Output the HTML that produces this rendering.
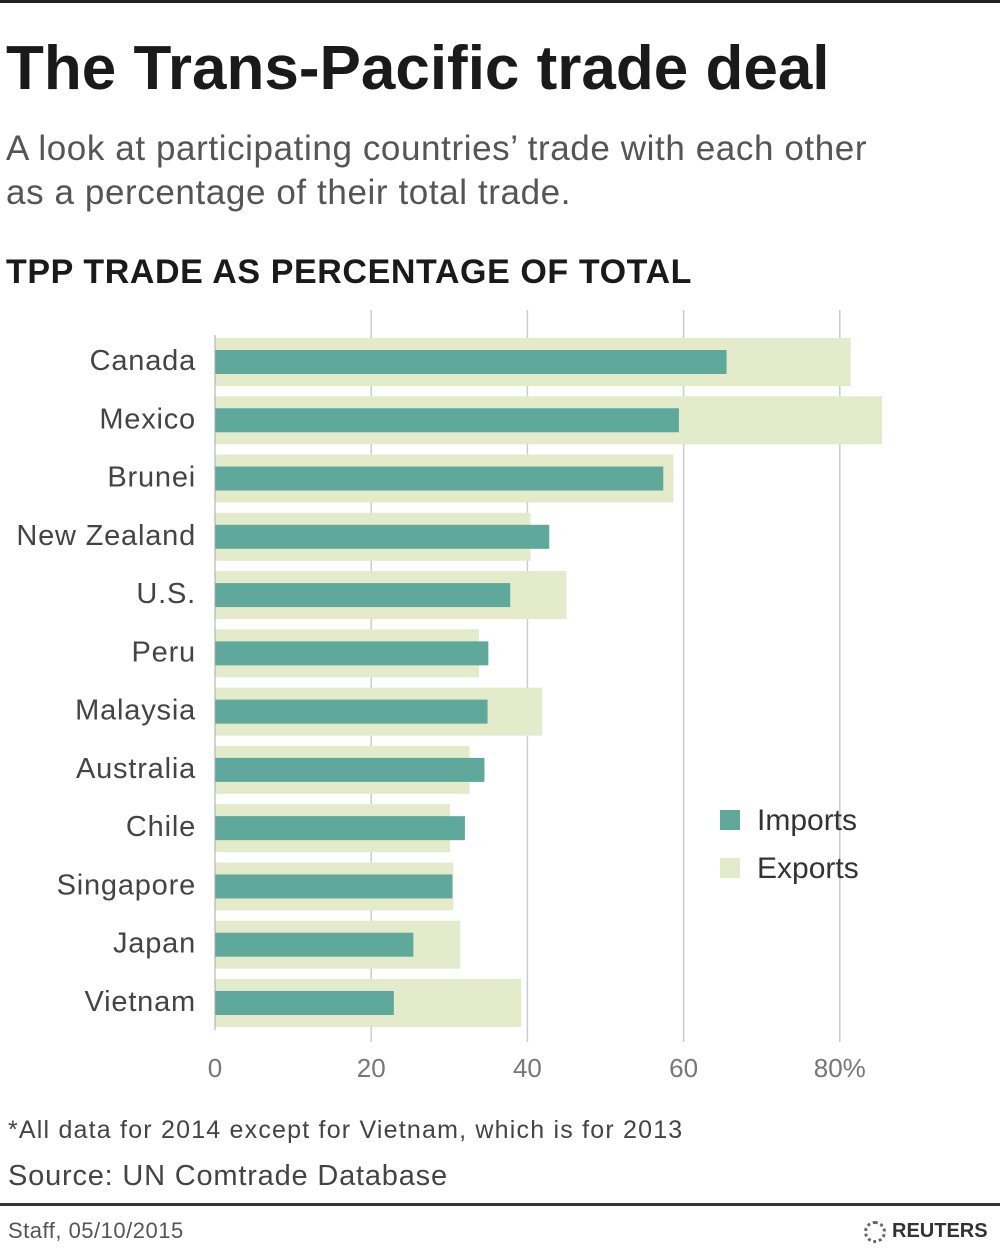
<!DOCTYPE html>
<html><head><meta charset="utf-8"><style>
body{margin:0;width:1000px;height:1250px;background:#fff;position:relative;overflow:hidden;font-family:"Liberation Sans",sans-serif;color:#222}
.t{position:absolute;white-space:nowrap}
</style></head><body>
<div style="position:absolute;left:0;top:0;width:1000px;height:3px;background:#222"></div>
<div class="t" style="left:6px;top:33px;font-size:62px;font-weight:bold;color:#1a1a1a">The Trans-Pacific trade deal</div>
<div class="t" style="left:6px;top:127px;font-size:35px;letter-spacing:0.6px;line-height:44px;color:#555">A look at participating countries’ trade with each other<br>as a percentage of their total trade.</div>
<div class="t" style="left:6px;top:253px;font-size:34px;letter-spacing:0.6px;font-weight:bold;color:#1a1a1a">TPP TRADE AS PERCENTAGE OF TOTAL</div>
<svg id="chart" width="1000" height="1100" style="position:absolute;left:0;top:0"></svg>
<div class="t" style="left:8px;top:1116px;font-size:25px;letter-spacing:1.2px;color:#444">*All data for 2014 except for Vietnam, which is for 2013</div>
<div class="t" style="left:8px;top:1160px;font-size:29px;letter-spacing:0.8px;color:#444">Source: UN Comtrade Database</div>
<div style="position:absolute;left:0;top:1203px;width:1000px;height:3px;background:#333"></div>
<div class="t" style="left:8px;top:1218px;font-size:22px;letter-spacing:0.5px;color:#555">Staff, 05/10/2015</div>
<div class="t" style="left:864px;top:1220px;font-size:20px;font-weight:bold;color:#333"><span style="display:inline-block;width:22px;height:22px;border-radius:50%;border:3px dotted #666;vertical-align:middle;margin-right:6px;box-sizing:border-box"></span>REUTERS</div>
<script>
const categories=["Canada","Mexico","Brunei","New Zealand","U.S.","Peru","Malaysia","Australia","Chile","Singapore","Japan","Vietnam"];
const imports=[65.5,59.4,57.4,42.8,37.8,35,34.9,34.5,32,30.4,25.4,22.9];
const exports=[81.4,85.4,58.7,40.4,45,33.8,41.9,32.6,30.1,30.5,31.4,39.2];
const ticks=[0,20,40,60,80];
const tickLabels=["0","20","40","60","80%"];
const svg=document.getElementById('chart');
const NS='http://www.w3.org/2000/svg';
const x=v=>215+v*7.81;
const y=i=>362+i*58.27;
function mk(t,a){const e=document.createElementNS(NS,t);for(const k in a)e.setAttribute(k,a[k]);svg.appendChild(e);return e;}
ticks.forEach((t,i)=>{
 if(i>0){const g=mk('line',{x1:x(t),x2:x(t),y1:310,y2:1042,stroke:'#ccc','stroke-width':1.5});
 
 }
 const l=mk('text',{x:x(t),y:1077,'text-anchor':'middle','font-size':26,fill:'#777','font-family':'Liberation Sans, sans-serif'});
 l.textContent=tickLabels[i];
 
 
});
categories.forEach((c,i)=>{
 const e=mk('rect',{x:x(0),y:y(i)-24,width:x(exports[i])-x(0),height:48,fill:'#e4ebcb'});
 
 
 const m=mk('rect',{x:x(0),y:y(i)-12,width:x(imports[i])-x(0),height:24,fill:'#5fa89c'});
 
 
 const l=mk('text',{x:196,y:y(i)+8,'text-anchor':'end','font-size':29,'letter-spacing':0.8,fill:'#444','font-family':'Liberation Sans, sans-serif'});
 l.textContent=c;
 
 
});
const axis=mk('line',{x1:x(0),x2:x(0),y1:335,y2:1030,stroke:'#aaa','stroke-width':1});


[["Imports","#5fa89c",820],["Exports","#e4ebcb",868]].forEach(([n,col,yy])=>{
 const r=mk('rect',{x:720,y:yy-10,width:20,height:20,fill:col});
 
 
 const t=mk('text',{x:757,y:yy+10,'font-size':30,fill:'#333','font-family':'Liberation Sans, sans-serif'});
 t.textContent=n;
 
 
});
</script>
</body></html>
